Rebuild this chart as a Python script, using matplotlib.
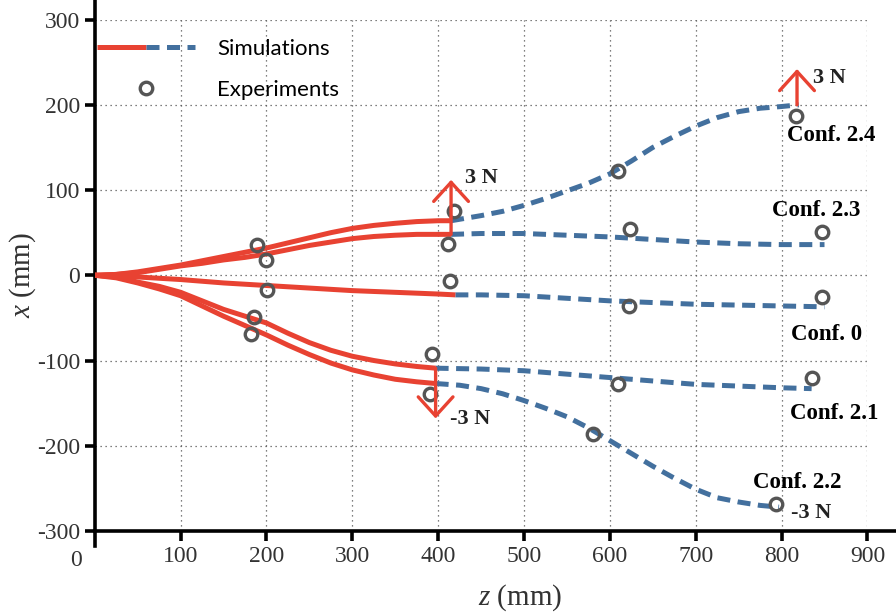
import matplotlib
matplotlib.use('Agg')
import matplotlib.pyplot as plt
from matplotlib.legend_handler import HandlerBase
from matplotlib.lines import Line2D

# simulated paths: red part before the force is applied, blue dashed part after
sim_z = [0, 25, 50, 75, 100, 125, 150, 175, 200, 225, 250, 275, 300, 325,
         350, 375, 400, 415]
sim_x_24 = [0, 1, 4, 8, 12, 17, 22, 27, 32, 38, 44, 50, 55, 58.5, 61, 63,
            64, 64]
sim_x_23 = [0, 1, 3, 7, 11, 14, 18, 21, 25, 30, 35, 39, 43, 45.5, 47, 48,
            48, 48]
ext_z_24 = [415, 450, 475, 500, 525, 550, 575, 600, 625, 650, 675, 700, 725,
            750, 775, 800, 820]
ext_x_24 = [64, 70, 75, 82, 90, 99, 108, 119, 134, 150, 163, 175, 185, 192,
            196, 198, 200]
ext_z_23 = [415, 450, 500, 550, 600, 650, 700, 750, 800, 850]
ext_x_23 = [48, 49, 49, 47, 45, 42, 39, 37, 36, 36]

sim_z_0 = [0, 50, 100, 150, 200, 250, 300, 350, 400, 420]
sim_x_0 = [0, -2, -5, -9, -12, -15, -18, -20, -22, -23]
ext_z_0 = [420, 450, 500, 550, 600, 650, 700, 750, 800, 850]
ext_x_0 = [-23, -23, -24, -27, -30, -32, -34, -35, -36, -37]

sim_z_low = [0, 25, 50, 75, 100, 125, 150, 175, 200, 225, 250, 275, 300, 325,
             350, 375, 397]
sim_x_21 = [0, -2, -8, -13, -20, -30, -40, -48, -56, -68, -79, -88, -95, -100,
            -104, -107, -109]
sim_x_22 = [0, -3, -9, -16, -24, -36, -48, -59, -70, -82, -93, -103, -111,
            -117, -122, -125, -127]
ext_z_21 = [397, 450, 500, 550, 600, 650, 700, 750, 800, 835]
ext_x_21 = [-109, -110, -112, -116, -120, -124, -128, -130, -132, -133]
ext_z_22 = [397, 425, 450, 475, 500, 525, 550, 575, 600, 625, 650, 675, 700,
            725, 750, 775, 797]
ext_x_22 = [-127, -129, -133, -139, -147, -156, -166, -179, -194, -209, -224,
            -238, -251, -261, -266, -270, -272]

# measured positions
exp_z = [189, 419, 610, 817, 200, 411, 624, 847, 201, 414, 622, 847,
         186, 393, 610, 835, 182, 390, 580, 794]
exp_x = [36, 76, 122, 187, 18, 37, 54, 51, -17, -7, -36, -25,
         -49, -92, -127, -120, -69, -139, -186, -268]

# applied forces: z, start x, end x, label
force_z = [415, 397, 818, 797]
force_x0 = [48, -109, 200, -272]
force_x1 = [112, -168, 242, -318]
force_lbl = ['3 N', '-3 N', '3 N', '-3 N']
force_lbl_z = [450, 437, 856, 835]
force_lbl_x = [114, -169, 231, -279]

conf_lbl = ['Conf. 2.4', 'Conf. 2.3', 'Conf. 0', 'Conf. 2.1', 'Conf. 2.2']
conf_lbl_z = [858, 840, 852, 861, 818]
conf_lbl_x = [164, 76, -70, -162, -243]

RED = '#E84232'
BLUE = '#43709E'
GREY = '#555555'
dash = (0, (2.6, 1.5))

plt.rcParams['font.family'] = 'Liberation Serif'
plt.rcParams['axes.unicode_minus'] = False
plt.rcParams['mathtext.fontset'] = 'custom'
plt.rcParams['mathtext.rm'] = 'Liberation Serif'
plt.rcParams['mathtext.it'] = 'Liberation Serif:italic'


class SplitLineHandler(HandlerBase):
    def create_artists(self, legend, orig_handle, xdescent, ydescent,
                       width, height, fontsize, trans):
        y = height / 2 - ydescent
        x0 = -xdescent
        a = Line2D([x0, x0 + width / 2], [y, y], color=RED, lw=3.6,
                   solid_capstyle='butt')
        b = Line2D([x0 + width / 2, x0 + width], [y, y], color=BLUE, lw=3.6,
                   linestyle=dash)
        a.set_transform(trans)
        b.set_transform(trans)
        return [a, b]


fig = plt.figure(figsize=(8.96, 6.12), dpi=100)
ax = fig.add_axes([0.1058, 0.1324, 0.9681 - 0.1058, 0.968 - 0.1324])

sims = [(sim_z, sim_x_24, ext_z_24, ext_x_24),
        (sim_z, sim_x_23, ext_z_23, ext_x_23),
        (sim_z_0, sim_x_0, ext_z_0, ext_x_0),
        (sim_z_low, sim_x_21, ext_z_21, ext_x_21),
        (sim_z_low, sim_x_22, ext_z_22, ext_x_22)]
for sz, sx, ez, ex in sims:
    ax.plot(ez, ex, color=BLUE, lw=3.6, linestyle=dash, zorder=3)
    ax.plot(sz, sx, color=RED, lw=3.6, zorder=4, solid_capstyle='butt')

ax.plot(exp_z, exp_x, 'o', mfc='none', mec=GREY, ms=9, mew=2.4, zorder=5)

for z, x0, x1, lbl, lz, lx in zip(force_z, force_x0, force_x1, force_lbl,
                                  force_lbl_z, force_lbl_x):
    ax.annotate('', xy=(z, x1), xytext=(z, x0),
                arrowprops=dict(arrowstyle='->,head_length=0.55,head_width=0.5',
                                color=RED, lw=2.4, shrinkA=0, shrinkB=0,
                                mutation_scale=25), zorder=6)
    ax.text(lz, lx, lbl, ha='center', va='center', fontsize=16,
            fontweight='bold', color='#222222')

for lbl, lz, lx in zip(conf_lbl, conf_lbl_z, conf_lbl_x):
    ax.text(lz, lx, lbl, ha='center', va='center', fontsize=16.5,
            fontweight='bold', color='black')

ax.set_xlim(0, 900)
ax.set_ylim(-300, 300)
ax.set_xticks(range(100, 1000, 100))
ax.set_yticks(range(-300, 400, 100))
ax.grid(True, linestyle=(0, (1, 3)), color='#555555', lw=0.9)
for s in ['top', 'right']:
    ax.spines[s].set_visible(False)
ax.spines['left'].set_linewidth(2.6)
ax.spines['bottom'].set_linewidth(2.6)
ax.spines['left'].set_bounds(-318, 322)
ax.spines['bottom'].set_bounds(0, 935)
ax.tick_params(width=2.6, length=7, labelsize=17, labelcolor='#333333',
               direction='out')
ax.text(-22, -335, '0', fontsize=17, color='#333333', ha='center', va='center')

ax.set_xlabel('$z$ (mm)', fontsize=21, color='#333333', labelpad=2)
ax.set_ylabel('$x$ (mm)', fontsize=21, color='#333333', labelpad=2)
ax.xaxis.set_label_coords(0.55, -0.1)
ax.yaxis.set_label_coords(-0.073, 0.5)

sim_proxy = Line2D([], [], color=RED)
exp_proxy = Line2D([], [], marker='o', ls='none', mfc='none', mec=GREY,
                   ms=9, mew=2.4)
ax.legend([sim_proxy, exp_proxy], ['Simulations', 'Experiments'],
          handler_map={sim_proxy: SplitLineHandler()},
          loc='upper left', bbox_to_anchor=(0.003, 0.963), frameon=False,
          prop={'family': 'Lato', 'size': 16}, handlelength=4.4,
          handletextpad=1.0, labelspacing=0.95, borderpad=0,
          borderaxespad=0)

fig.savefig('out.png', dpi=100)
